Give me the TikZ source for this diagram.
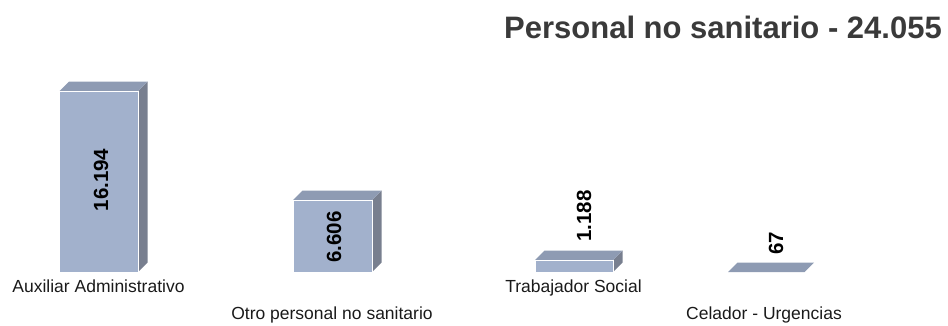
\documentclass[tikz,border=0pt]{standalone}
\usepackage{fontspec}
\setmainfont{Liberation Sans}
\definecolor{frontc}{HTML}{A2B1CC}
\definecolor{topc}{HTML}{8E9BB3}
\definecolor{sidec}{HTML}{787F8F}
\definecolor{titlec}{HTML}{3A3A3A}
\definecolor{catc}{HTML}{1A1A1A}
\newcommand{\drawbarx}[5]{% x0 x1 ytop ybot depth
  \fill[sidec] (#2,#3) -- (#2+#5,#3-#5) -- (#2+#5,#4-#5) -- (#2,#4) -- cycle;
  \fill[topc] (#1,#3) -- (#1+#5,#3-#5) -- (#2+#5,#3-#5) -- (#2,#3) -- cycle;
  \filldraw[fill=frontc,draw=white,line width=0.8pt] (#1,#4) rectangle (#2,#3);
}
\tikzset{
  titlestyle/.style={font=\fontsize{31}{31}\selectfont\bfseries, text=titlec, inner sep=0pt, anchor=base east},
  catstyle/.style={font=\fontsize{17.5}{17.5}\selectfont, text=catc, inner sep=0pt, anchor=base},
  valstyle/.style={font=\fontsize{20.5}{20.5}\selectfont\bfseries, text=black, inner sep=0pt, rotate=90, anchor=center},
}
\begin{document}
\begin{tikzpicture}[x=1pt,y=-1pt]
\useasboundingbox (0,0) rectangle (948,325);
% bars
\drawbarx{59.5}{138}{91}{272}{9.5}
\drawbarx{293}{372}{200}{272}{9.5}
\drawbarx{535}{613}{260}{272}{9.5}
\fill[topc] (728,272) -- (737.5,262.5) -- (814,262.5) -- (804.5,272) -- cycle;
% title
\node[titlestyle] (title) at (942,38) {Personal no sanitario - 24.055};
% values
\node[valstyle] (v1) at (101,180) {16.194};
\node[valstyle] (v2) at (334,237) {6.606};
\node[valstyle] (v3) at (584,216) {1.188};
\node[valstyle] (v4) at (776,243) {67};
% categories
\node[catstyle] (c1) at (98.5,292) {Auxiliar Administrativo};
\node[catstyle] (c2) at (332,319) {Otro personal no sanitario};
\node[catstyle] (c3) at (573.5,292) {Trabajador Social};
\node[catstyle] (c4) at (764,319) {Celador - Urgencias};
\end{tikzpicture}
\end{document}
